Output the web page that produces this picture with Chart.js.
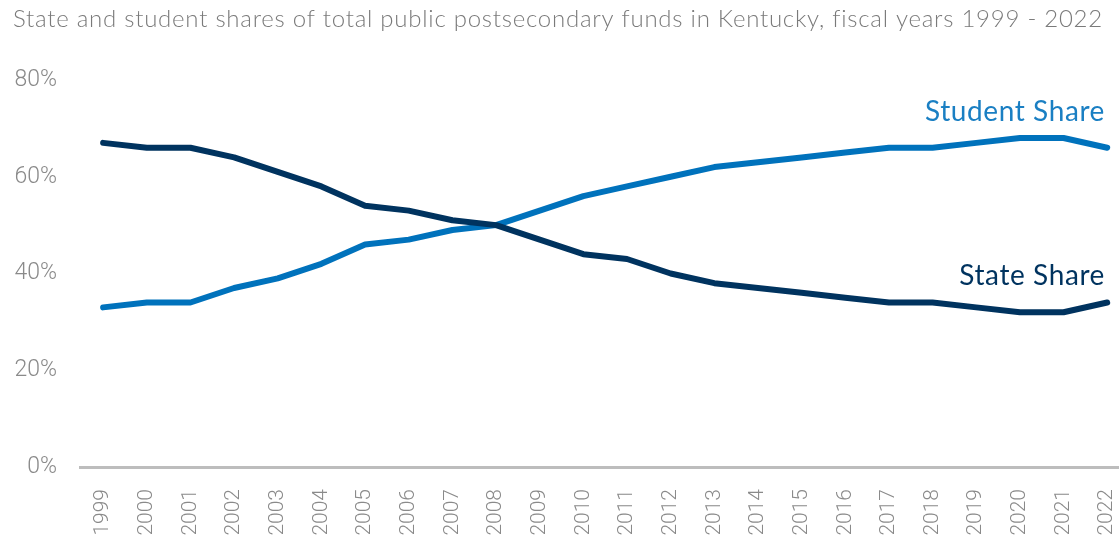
<!DOCTYPE html>
<html>
<head>
<meta charset="utf-8">
<script src="https://cdn.jsdelivr.net/npm/chart.js@4"></script>
<style>
  html, body { margin: 0; padding: 0; background: #fff; }
  #wrap { width: 1119px; height: 546px; position: relative; }
</style>
</head>
<body>
<div id="wrap"><canvas id="sharesChart"></canvas></div>
<script>
const titleText = 'State and student shares of total public postsecondary funds in Kentucky, fiscal years 1999 - 2022';

const years = [1999, 2000, 2001, 2002, 2003, 2004, 2005, 2006, 2007, 2008, 2009, 2010,
               2011, 2012, 2013, 2014, 2015, 2016, 2017, 2018, 2019, 2020, 2021, 2022];

// percent of total public postsecondary funds
const stateShare = [67, 66, 66, 64, 61, 58, 54, 53, 51, 50, 47, 44,
                    43, 40, 38, 37, 36, 35, 34, 34, 33, 32, 32, 34];
const studentShare = [33, 34, 34, 37, 39, 42, 46, 47, 49, 50, 53, 56,
                      58, 60, 62, 63, 64, 65, 66, 66, 67, 68, 68, 66];

const yTicks = [0, 20, 40, 60, 80];

const darkBlue = '#00335f';
const lightBlue = '#0072bc';

// title drawn at top-left, above the plot
const titlePlugin = {
  id: 'topTitle',
  beforeDraw(chart) {
    const c = chart.ctx;
    c.save();
    c.font = '300 24px Lato';
    c.letterSpacing = '0.75px';
    c.fillStyle = '#7a7a7a';
    c.textAlign = 'left';
    c.textBaseline = 'alphabetic';
    c.fillText(titleText, 13, 27);
    c.restore();
  }
};

// series names written above the end of each line
const endLabels = {
  id: 'endLabels',
  afterDatasetsDraw(chart) {
    const c = chart.ctx;
    const offsets = [18, 27];
    c.save();
    c.font = '400 28px Lato';
    c.letterSpacing = '0.6px';
    c.textAlign = 'right';
    c.textBaseline = 'alphabetic';
    chart.data.datasets.forEach((ds, i) => {
      const pts = chart.getDatasetMeta(i).data;
      const last = pts[pts.length - 1];
      c.fillStyle = ds.labelColor;
      c.fillText(ds.label, chart.chartArea.right - 14, last.y - offsets[i]);
    });
    c.restore();
  }
};

const ctx = document.getElementById('sharesChart').getContext('2d');

new Chart(ctx, {
  type: 'line',
  data: {
    datasets: [{
      label: 'State Share',
      labelColor: darkBlue,
      data: years.map((y, i) => ({ x: y, y: stateShare[i] })),
      borderColor: darkBlue,
      borderWidth: 6,
      borderCapStyle: 'round',
      borderJoinStyle: 'round',
      pointRadius: 0,
      tension: 0
    }, {
      label: 'Student Share',
      labelColor: '#1a7fc3',
      data: years.map((y, i) => ({ x: y, y: studentShare[i] })),
      borderColor: lightBlue,
      borderWidth: 6,
      borderCapStyle: 'round',
      borderJoinStyle: 'round',
      pointRadius: 0,
      tension: 0
    }]
  },
  options: {
    responsive: true,
    maintainAspectRatio: false,
    animation: false,
    layout: { padding: { top: 80, left: 0, right: 0, bottom: 0 } },
    plugins: {
      legend: { display: false },
      tooltip: { enabled: false }
    },
    scales: {
      x: {
        type: 'linear',
        min: 1998.47,
        max: 2022.27,
        afterBuildTicks(scale) {
          scale.ticks = years.map(v => ({ value: v }));
        },
        afterFit(scale) {
          scale.height = 79;
          scale.paddingLeft = 0;
          scale.paddingRight = 0;
        },
        grid: { display: false, drawTicks: false },
        border: { display: true, color: '#bdbdbd', width: 3 },
        ticks: {
          autoSkip: false,
          minRotation: 90,
          maxRotation: 90,
          padding: 22,
          color: '#8a8a8a',
          font: { family: 'Roboto', weight: '300', size: 21 },
          callback: (v) => String(v)
        }
      },
      y: {
        min: 0,
        max: 80,
        afterBuildTicks(scale) {
          scale.ticks = yTicks.map(v => ({ value: v }));
        },
        afterFit(scale) {
          scale.width = 80;
          scale.paddingTop = 0;
          scale.paddingBottom = 0;
        },
        grid: { display: false, drawTicks: false },
        border: { display: false },
        ticks: {
          padding: 23,
          color: '#8a8a8a',
          font: { family: 'Roboto', weight: '300', size: 23 },
          callback: (v) => v + '%'
        }
      }
    }
  },
  plugins: [titlePlugin, endLabels]
});
</script>
</body>
</html>
